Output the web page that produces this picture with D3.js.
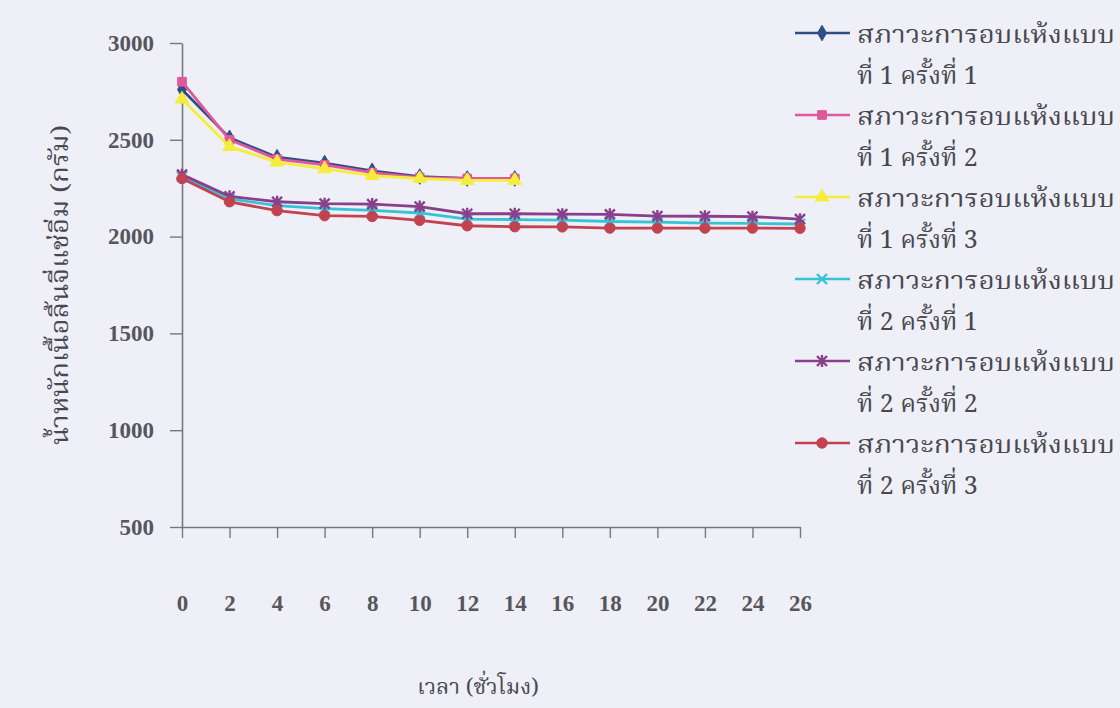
<!DOCTYPE html>
<html>
<head>
<meta charset="utf-8">
<script src="https://cdn.jsdelivr.net/npm/d3@7/dist/d3.min.js"></script>
<style>
  html, body { margin: 0; padding: 0; background: #efeff7; }
  svg { display: block; }
</style>
</head>
<body>
<svg id="chart" width="1120" height="708"></svg>
<script>
// Drying time (hours) and weight of candied lychee flesh (grams)
const hoursShort = [0, 2, 4, 6, 8, 10, 12, 14];
const hoursLong = [0, 2, 4, 6, 8, 10, 12, 14, 16, 18, 20, 22, 24, 26];

const cond1run1 = [2760, 2510, 2410, 2380, 2340, 2310, 2300, 2300];
const cond1run2 = [2800, 2500, 2400, 2370, 2330, 2305, 2300, 2300];
const cond1run3 = [2710, 2465, 2385, 2350, 2315, 2300, 2290, 2290];
const cond2run1 = [2310, 2195, 2160, 2145, 2135, 2122, 2090, 2088, 2085, 2078, 2075, 2070, 2068, 2065];
const cond2run2 = [2320, 2208, 2180, 2170, 2168, 2155, 2118, 2118, 2116, 2115, 2106, 2105, 2103, 2090];
const cond2run3 = [2300, 2180, 2134, 2108, 2104, 2084, 2056, 2051, 2050, 2044, 2044, 2044, 2044, 2043];

const yTicks = [500, 1000, 1500, 2000, 2500, 3000];
const xTicks = [0, 2, 4, 6, 8, 10, 12, 14, 16, 18, 20, 22, 24, 26];

const seriesNames = [
  ["สภาวะการอบแห้งแบบ", "ที่ 1 ครั้งที่ 1"],
  ["สภาวะการอบแห้งแบบ", "ที่ 1 ครั้งที่ 2"],
  ["สภาวะการอบแห้งแบบ", "ที่ 1 ครั้งที่ 3"],
  ["สภาวะการอบแห้งแบบ", "ที่ 2 ครั้งที่ 1"],
  ["สภาวะการอบแห้งแบบ", "ที่ 2 ครั้งที่ 2"],
  ["สภาวะการอบแห้งแบบ", "ที่ 2 ครั้งที่ 3"]
];
const yTitle = "น้ำหนักเนื้อลิ้นจี่แช่อิ่ม (กรัม)";
const xTitle = "เวลา (ชั่วโมง)";

const series = [
  { x: hoursShort, y: cond1run1, color: "#2e4f86", marker: "diamond" },
  { x: hoursShort, y: cond1run2, color: "#e0589c", marker: "square" },
  { x: hoursShort, y: cond1run3, color: "#f4ee3a", marker: "triangle" },
  { x: hoursLong,  y: cond2run1, color: "#35c4d6", marker: "cross" },
  { x: hoursLong,  y: cond2run2, color: "#8a3f8c", marker: "star" },
  { x: hoursLong,  y: cond2run3, color: "#c2434f", marker: "circle" }
];

const thaiFont = "'Noto Serif Thai','Noto Sans Thai','Garuda','Loma','Liberation Serif',serif";
const numFont = "'Liberation Serif','DejaVu Serif',serif";

const svg = d3.select("#chart");
const x = d3.scaleLinear().domain([0, 26]).range([182, 800]);
const y = d3.scaleLinear().domain([500, 3000]).range([527, 43]);

// Axes
const yAxis = svg.append("g")
  .attr("transform", `translate(${x(0)},0)`)
  .call(d3.axisLeft(y).tickValues(yTicks).tickFormat(d3.format("d"))
    .tickSize(12).tickPadding(16).tickSizeOuter(0));
const xAxis = svg.append("g")
  .attr("transform", `translate(0,${y(500)})`)
  .call(d3.axisBottom(x).tickValues(xTicks).tickFormat(d3.format("d"))
    .tickSize(11).tickPadding(57).tickSizeOuter(0));

[yAxis, xAxis].forEach(g => {
  g.select(".domain").attr("stroke", "#77777f").attr("stroke-width", 1.6);
  g.selectAll(".tick line").attr("stroke", "#77777f").attr("stroke-width", 1.4);
  g.selectAll(".tick text")
    .attr("fill", "#56565d")
    .style("font-family", numFont)
    .style("font-size", "23px")
    .style("font-weight", "bold");
});

// Marker shapes
function markerPath(kind) {
  switch (kind) {
    case "diamond": return d3.symbol(d3.symbolDiamond, 70)();
    case "square": return d3.symbol(d3.symbolSquare, 75)();
    case "triangle": return d3.symbol(d3.symbolTriangle, 80)();
    case "circle": return d3.symbol(d3.symbolCircle, 85)();
    case "cross": return "M-5,-5L5,5M-5,5L5,-5";
    case "star": return "M-5,-5L5,5M-5,5L5,-5M0,-6L0,6";
  }
}

const line = d3.line().x(d => x(d[0])).y(d => y(d[1]));

series.forEach(s => {
  const pts = s.x.map((v, i) => [v, s.y[i]]);
  const g = svg.append("g");
  g.append("path")
    .attr("d", line(pts))
    .attr("fill", "none")
    .attr("stroke", s.color)
    .attr("stroke-width", 2.8)
    .attr("stroke-linejoin", "round");
  const stroked = s.marker === "cross" || s.marker === "star";
  g.selectAll("path.m").data(pts).join("path")
    .attr("class", "m")
    .attr("transform", d => `translate(${x(d[0])},${y(d[1])})`)
    .attr("d", markerPath(s.marker))
    .attr("fill", stroked ? "none" : s.color)
    .attr("stroke", s.color)
    .attr("stroke-width", stroked ? 2.4 : 1);
});

// Legend
const legend = svg.append("g");
seriesNames.forEach((name, i) => {
  const s = series[i];
  const cy = 33 + i * 82;
  const stroked = s.marker === "cross" || s.marker === "star";
  legend.append("line")
    .attr("x1", 795).attr("x2", 850).attr("y1", cy).attr("y2", cy)
    .attr("stroke", s.color).attr("stroke-width", 2.6);
  legend.append("path")
    .attr("transform", `translate(822,${cy})`)
    .attr("d", markerPath(s.marker))
    .attr("fill", stroked ? "none" : s.color)
    .attr("stroke", s.color)
    .attr("stroke-width", stroked ? 2.4 : 1);
  name.forEach((t, j) => {
    legend.append("text")
      .attr("x", 857)
      .attr("y", cy + j * 41 + 10)
      .attr("fill", "#48484f")
      .attr("textLength", j === 0 ? 258 : null)
      .attr("lengthAdjust", "spacingAndGlyphs")
      .style("font-family", thaiFont)
      .style("font-size", "25px")
      .text(t);
  });
});

// Axis titles
svg.append("text")
  .attr("transform", `translate(62,285) rotate(-90)`)
  .attr("text-anchor", "middle")
  .attr("dominant-baseline", "middle")
  .attr("fill", "#48484f")
  .attr("textLength", 320)
  .attr("lengthAdjust", "spacingAndGlyphs")
  .style("font-family", thaiFont)
  .style("font-size", "24px")
  .text(yTitle);

svg.append("text")
  .attr("x", 478)
  .attr("y", 694)
  .attr("text-anchor", "middle")
  .attr("fill", "#48484f")
  .style("font-family", thaiFont)
  .style("font-size", "22px")
  .text(xTitle);
</script>
</body>
</html>
